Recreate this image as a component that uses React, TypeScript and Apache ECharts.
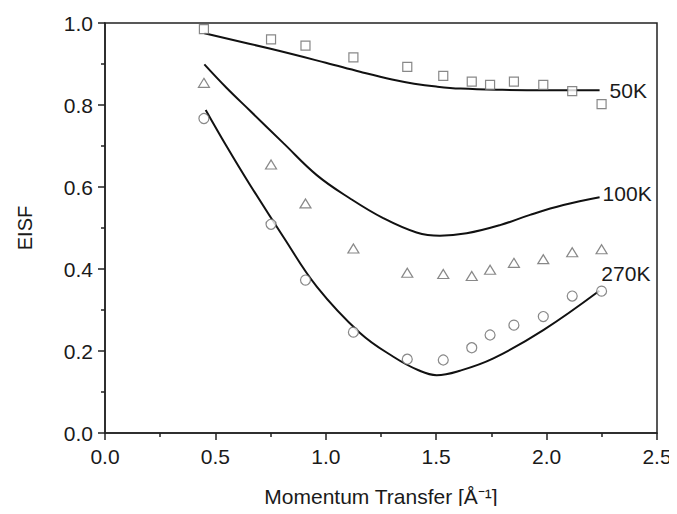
import React, { useEffect, useRef } from "react";
import * as echarts from "echarts";

// Measured points (Momentum transfer, EISF)
const q = [0.448, 0.752, 0.908, 1.125, 1.369, 1.532, 1.661, 1.744, 1.852, 1.985, 2.116, 2.249];
const eisf50K = [0.985, 0.96, 0.945, 0.916, 0.893, 0.871, 0.857, 0.849, 0.857, 0.849, 0.834, 0.802];
const eisf100K = [0.854, 0.655, 0.56, 0.45, 0.391, 0.388, 0.383, 0.398, 0.415, 0.424, 0.441, 0.448];
const eisf270K = [0.767, 0.509, 0.373, 0.246, 0.18, 0.178, 0.208, 0.239, 0.263, 0.284, 0.334, 0.346];

// Model curves
const fit50K: number[][] = [
  [0.45, 0.975], [0.75, 0.937], [1.0, 0.903], [1.155, 0.881], [1.3, 0.862], [1.4, 0.852],
  [1.5, 0.845], [1.61, 0.84], [1.8, 0.837], [2.0, 0.836], [2.24, 0.836],
];
const fit100K: number[][] = [
  [0.45, 0.899], [0.55, 0.842], [0.657, 0.786], [0.808, 0.707], [0.959, 0.629], [1.11, 0.572],
  [1.26, 0.524], [1.411, 0.489], [1.517, 0.481], [1.638, 0.487], [1.789, 0.507], [1.925, 0.532],
  [2.076, 0.556], [2.24, 0.575],
];
const fit270K: number[][] = [
  [0.456, 0.788], [0.55, 0.7], [0.657, 0.605], [0.808, 0.478], [0.959, 0.357], [1.155, 0.244],
  [1.306, 0.186], [1.42, 0.153], [1.502, 0.141], [1.608, 0.152], [1.759, 0.182], [1.985, 0.251],
  [2.239, 0.347],
];

const labels = ["50K", "100K", "270K"];

const FONT = "'Liberation Sans', Arial, Helvetica, sans-serif";
const TXT = "#1a1a1a";

function pts(xs: number[], ys: number[]) {
  return xs.map((x, i) => [x, ys[i]]);
}

function curve(data: number[][], name: string, labelOffset: number[], dist: number) {
  return {
    type: "line",
    name,
    smooth: 0.4,
    showSymbol: false,
    symbol: "none",
    lineStyle: { color: "#111", width: 2 },
    z: 3,
    endLabel: {
      show: true,
      distance: dist,
      offset: labelOffset,
      formatter: name,
      fontSize: 21,
      fontFamily: FONT,
      color: TXT,
    },
    data,
  };
}

function markers(data: number[][], symbol: string, size: any) {
  return {
    type: "scatter",
    symbol,
    symbolSize: size,
    itemStyle: { color: "#fff", borderColor: "#6a6a6a", borderWidth: 1.2 },
    z: 4,
    data,
  };
}

export default function App() {
  const ref = useRef<HTMLDivElement>(null);
  useEffect(() => {
    if (!ref.current) return;
    const chart = echarts.init(ref.current, null, { renderer: "svg" });
    chart.setOption({
      animation: false,
      backgroundColor: "#fff",
      grid: {
        left: 105,
        right: 20,
        top: 23,
        bottom: 81,
        outerBoundsMode: "none",
        show: true,
        borderColor: "#222",
        borderWidth: 1.5,
        backgroundColor: "transparent",
      },
      xAxis: {
        type: "value",
        min: 0,
        max: 2.5,
        interval: 0.5,
        name: "Momentum Transfer [Å⁻¹]",
        nameLocation: "middle",
        nameGap: 53,
        nameTextStyle: { fontSize: 21, fontFamily: FONT, color: TXT },
        axisLine: { show: true, lineStyle: { color: "#222", width: 1.5 } },
        axisTick: { show: true, inside: false, length: 7, lineStyle: { color: "#222", width: 1.5 } },
        minorTick: { show: true, splitNumber: 2, length: 4, lineStyle: { color: "#222", width: 1.5 } },
        splitLine: { show: false },
        axisLabel: {
          fontSize: 21,
          fontFamily: FONT,
          color: TXT,
          margin: 13,
          formatter: (v: number) => v.toFixed(1),
        },
      },
      yAxis: {
        type: "value",
        min: 0,
        max: 1,
        interval: 0.2,
        name: "EISF",
        nameLocation: "middle",
        nameGap: 70,
        nameTextStyle: { fontSize: 20, fontFamily: FONT, color: TXT },
        axisLine: { show: true, lineStyle: { color: "#222", width: 1.5 } },
        axisTick: { show: true, inside: false, length: 7, lineStyle: { color: "#222", width: 1.5 } },
        minorTick: { show: true, splitNumber: 2, length: 4, lineStyle: { color: "#222", width: 1.5 } },
        splitLine: { show: false },
        axisLabel: {
          fontSize: 21,
          fontFamily: FONT,
          color: TXT,
          margin: 12,
          formatter: (v: number) => v.toFixed(1),
        },
      },
      series: [
        curve(fit50K, labels[0], [0, 0], 10),
        curve(fit100K, labels[1], [0, -4], 3),
        curve(fit270K, labels[2], [-2, -17], 4),
        markers(pts(q, eisf50K), "rect", 9),
        markers(pts(q, eisf100K), "triangle", [11, 9]),
        markers(pts(q, eisf270K), "circle", 10),
      ],
    });
    return () => chart.dispose();
  }, []);
  return <div ref={ref} style={{ width: 677, height: 514, margin: -8 }} />;
}
